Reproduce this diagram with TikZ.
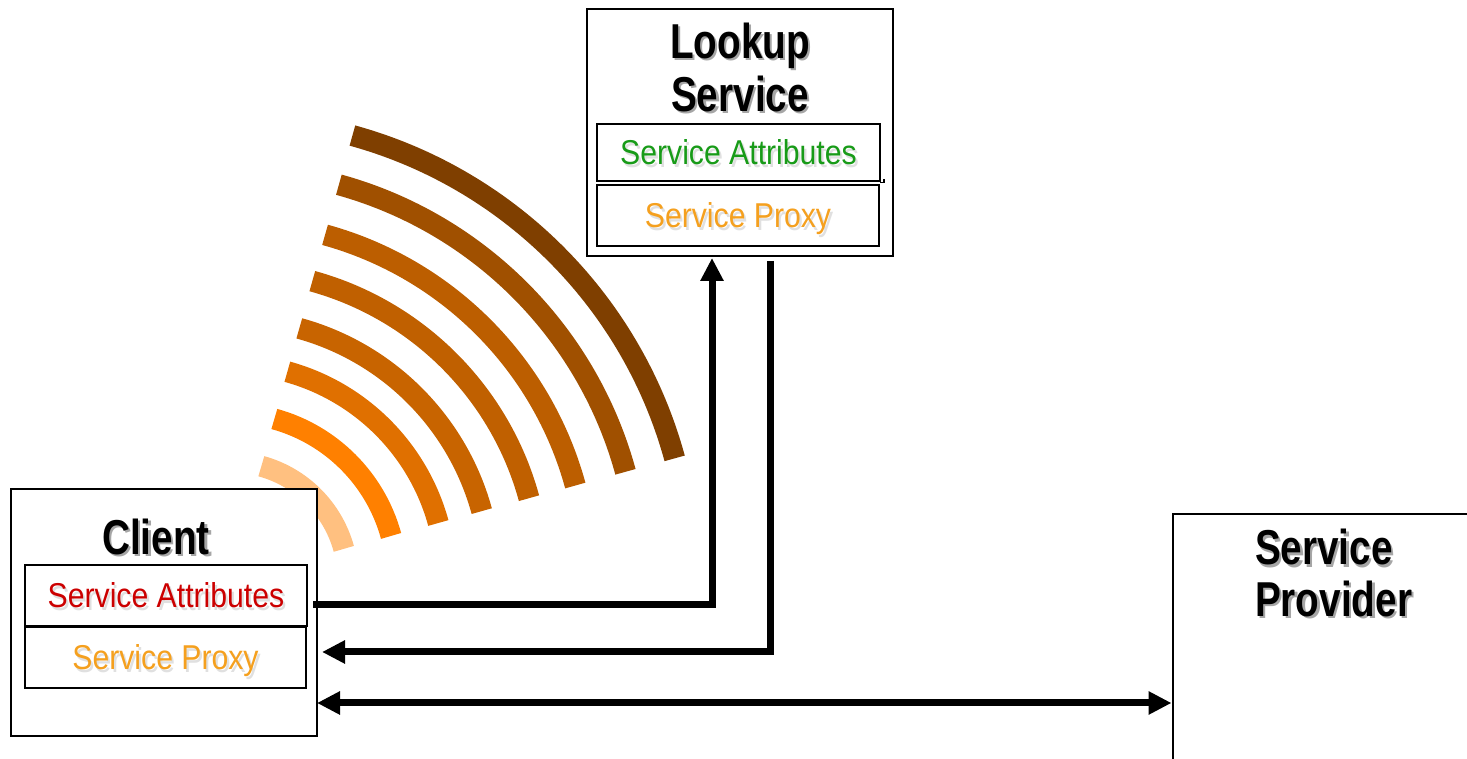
\documentclass[tikz,border=0pt]{standalone}
\usepackage{fontspec}
\setmainfont{Liberation Sans}
\newfontfamily\headfont[FakeStretch=0.79]{Liberation Sans}
\newfontfamily\labelfont[FakeStretch=0.875]{Liberation Sans}
\usetikzlibrary{arrows.meta,calc}

% band colours, darkest (outermost) to lightest (innermost)
\definecolor{bandA}{HTML}{7F3F00}
\definecolor{bandB}{HTML}{A05000}
\definecolor{bandC}{HTML}{BC5E00}
\definecolor{bandD}{HTML}{C06000}
\definecolor{bandE}{HTML}{C86400}
\definecolor{bandF}{HTML}{E07000}
\definecolor{bandG}{HTML}{FF8000}
\definecolor{bandH}{HTML}{FFC080}
\definecolor{attrgreen}{RGB}{24,155,24}
\definecolor{attrred}{RGB}{204,0,0}
\definecolor{proxyorange}{RGB}{245,160,30}

% text with a soft drop shadow: #1 shadow colour, #2 text colour, #3 text
\newcommand\dropshadow[3]{%
  \makebox[0pt][l]{\kern2.2pt\raisebox{-2.2pt}{\textcolor{#1}{#3}}}\textcolor{#2}{#3}}

\tikzset{
  outerbox/.style={draw=black, line width=2.6pt, fill=white, inner sep=0pt, outer sep=0pt},
  innerbox/.style={draw=black, line width=2.4pt, fill=white, inner sep=0pt, outer sep=0pt,
    text height=25pt, text depth=0pt,
    font=\labelfont\fontsize{34.5}{40}\selectfont},
  heading/.style={inner sep=0pt, outer sep=0pt,
    font=\headfont\bfseries\fontsize{49}{53}\selectfont},
  band/.style={line width=21pt},
  conn/.style={line width=7pt, line join=miter},
  bigtip/.tip={Triangle[length=23pt,width=22pt]},
}

\begin{document}
\begin{tikzpicture}[x=1pt,y=1pt]
  \useasboundingbox (0,0) rectangle (1467,759);
  \clip (0,0) rectangle (1467,759);

  % broadcast waves spreading from the client
  \foreach \r/\c in {461/bandA,410/bandB,358/bandC,310/bandD,261/bandE,216/bandF,167/bandG,118/bandH}
    \draw[band,\c] (230,179) ++(74.6:\r) arc[start angle=74.6, end angle=15.3, radius=\r];

  % lookup service
  \node[outerbox, minimum width=306pt, minimum height=247pt] (lookup) at (740,626.5) {};
  \node[innerbox, minimum width=283pt, minimum height=57pt] (lattr) at (738.5,606.5)
    {\dropshadow{black!12}{attrgreen}{Service Attributes}};
  \node[innerbox, minimum width=282pt, minimum height=61pt] (lproxy) at (738,543.5)
    {\dropshadow{black!12}{proxyorange}{Service Proxy}};
  \draw[line width=1.6pt] ([yshift=-1.5pt]lattr.south east) -- ++(4,0) -- ++(0,3);
  \node[heading, anchor=base] (lookupA) at (740,700.7) {\dropshadow{black!35}{black}{Lookup}};
  \node[heading, anchor=base] (lookupB) at (740,647.3) {\dropshadow{black!35}{black}{Service}};

  % client
  \node[outerbox, minimum width=306pt, minimum height=247pt] (client) at (164,146.5) {};
  \node[innerbox, minimum width=282pt, minimum height=61pt] (cattr) at (166,163.5)
    {\dropshadow{black!12}{attrred}{Service Attributes}};
  \node[innerbox, minimum width=281pt, minimum height=61pt] (cproxy) at (165.5,101.5)
    {\dropshadow{black!12}{proxyorange}{Service Proxy}};
  \node[heading, anchor=base] (clientT) at (156,204.7) {\dropshadow{black!35}{black}{Client}};

  % service provider
  \node[outerbox, minimum width=327pt, minimum height=286pt] (provider) at (1336.5,102) {};
  \node[heading, anchor=base west] (provA) at (1255,194) {\dropshadow{black!35}{black}{Service}};
  \node[heading, anchor=base west] (provB) at (1255,142.3) {\dropshadow{black!35}{black}{Provider}};

  % lookup request and reply
  \draw[conn, -bigtip] ([xshift=-4pt,yshift=8pt]client.east) -| ([xshift=-28pt,yshift=-2pt]lookup.south);
  \draw[conn, -bigtip] ([xshift=30pt,yshift=-5pt]lookup.south) |- ([xshift=5pt,yshift=-39.5pt]client.east);

  % direct interaction with the provider
  \coordinate (a3) at ([yshift=-90.5pt]client.east);
  \draw[conn, bigtip-bigtip, shorten >=1.5pt] (a3) -- (provider.west |- a3);
\end{tikzpicture}
\end{document}
